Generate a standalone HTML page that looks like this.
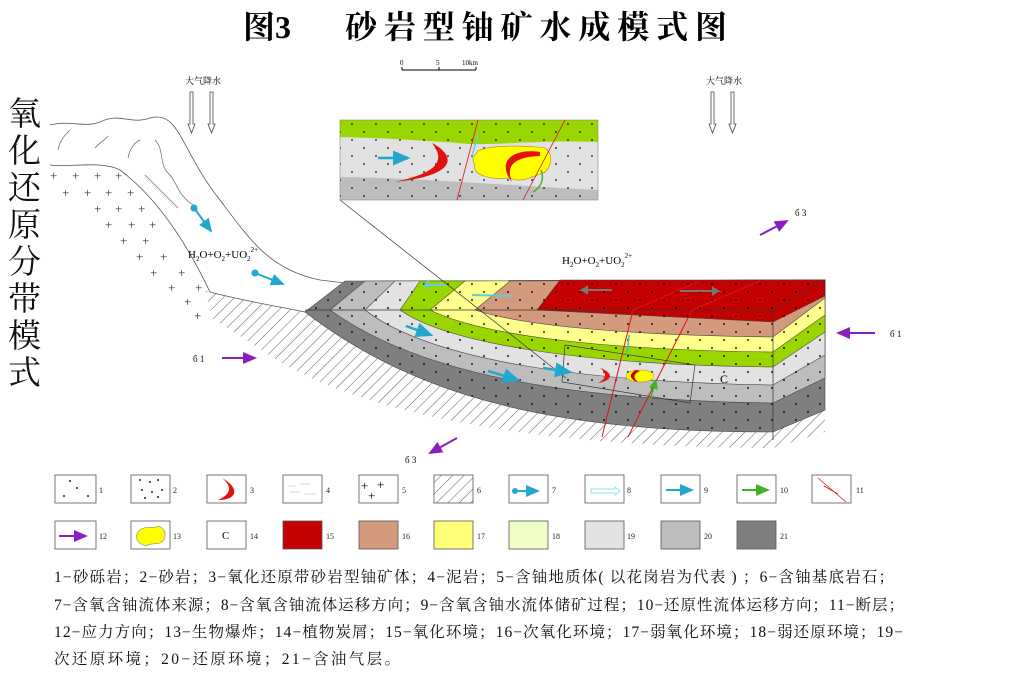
<!DOCTYPE html>
<html><head><meta charset="utf-8"><style>
html,body{margin:0;padding:0;background:#fff;}
svg{display:block;}
.t{font-family:"Liberation Serif","Noto Serif CJK SC",serif;}
</style></head><body>
<svg width="1024" height="680" viewBox="0 0 1024 680" xmlns="http://www.w3.org/2000/svg">
<defs>
<pattern id="dots" width="24" height="16" patternUnits="userSpaceOnUse">
<circle cx="4" cy="4" r="1.1" fill="#000"/><circle cx="16" cy="12" r="1.1" fill="#000"/>
</pattern>
<pattern id="hatch" width="8" height="8" patternUnits="userSpaceOnUse" patternTransform="rotate(45)">
<line x1="0" y1="0" x2="0" y2="8" stroke="#333" stroke-width="0.8"/>
</pattern>
<marker id="pa" markerWidth="8" markerHeight="8" refX="6" refY="4" orient="auto"><path d="M0,1 L7,4 L0,7 Z" fill="#8a1fc0"/></marker>
<marker id="ba" markerWidth="8" markerHeight="8" refX="6" refY="4" orient="auto"><path d="M0,1 L7,4 L0,7 Z" fill="#21a8cc"/></marker>
<marker id="ga" markerWidth="8" markerHeight="8" refX="6" refY="4" orient="auto"><path d="M0,1 L7,4 L0,7 Z" fill="#44b02a"/></marker>
</defs>

<text x="243" y="38" class="t" font-size="32" font-weight="bold">图3</text>
<text x="345" y="38" class="t" font-size="32" font-weight="bold" textLength="382" lengthAdjust="spacing">砂岩型铀矿水成模式图</text>

<g class="t" font-size="33" fill="#111">
<text x="8" y="125">氧</text><text x="8" y="162">化</text><text x="8" y="199">还</text><text x="8" y="236">原</text>
<text x="8" y="273">分</text><text x="8" y="310">带</text><text x="8" y="347">模</text><text x="8" y="384">式</text>
</g>

<!-- scale bar -->
<line x1="402" y1="70" x2="476" y2="70" stroke="#000" stroke-width="1"/>
<line x1="402" y1="67" x2="402" y2="70" stroke="#000"/><line x1="439" y1="67" x2="439" y2="70" stroke="#000"/><line x1="476" y1="67" x2="476" y2="70" stroke="#000"/>
<text x="400" y="65" class="t" font-size="7">0</text><text x="436" y="65" class="t" font-size="7">5</text><text x="462" y="65" class="t" font-size="7">10km</text>

<!-- rain -->
<g class="t" font-size="9"><text x="185" y="84">大气降水</text><text x="706" y="84">大气降水</text></g>
<g fill="#fff" stroke="#444" stroke-width="0.8">
<path d="M190,92 h3 v32 h2 l-3.5,9 l-3.5,-9 h2 z"/><path d="M210,92 h3 v32 h2 l-3.5,9 l-3.5,-9 h2 z"/>
<path d="M711,92 h3 v32 h2 l-3.5,9 l-3.5,-9 h2 z"/><path d="M731,92 h3 v32 h2 l-3.5,9 l-3.5,-9 h2 z"/>
</g>

<!-- basement hatch -->
<path d="M205,290 C240,300 270,305 305,312 C420,400 560,432 773,432 L825,410 L825,432 L773,448 C560,448 380,420 280,362 L212,318 Z" fill="url(#hatch)"/>
<line x1="773" y1="420" x2="773" y2="440" stroke="#333" stroke-width="0.8"/>

<!-- slope -->
<path d="M50,125 C70,120 85,128 100,122 C120,112 130,125 150,118 C180,110 180,150 220,200 C250,240 270,270 320,280 L345,283 L305,312 C270,305 240,300 210,292 C190,250 160,200 120,170 C100,160 70,168 50,165" fill="#fff" stroke="#555" stroke-width="0.8"/>
<g fill="none" stroke="#666" stroke-width="0.7">
<path d="M58,150 C60,140 65,135 70,130"/><path d="M95,148 C100,142 105,140 108,136"/><path d="M128,158 C130,148 135,142 140,140"/>
<path d="M155,140 C165,150 158,165 170,175 C178,185 178,195 193,205"/><path d="M145,175 C160,190 170,200 178,208"/>
</g>
<g class="t" font-size="13" fill="#333">
<text x="50" y="180">+</text><text x="72" y="180">+</text><text x="94" y="180">+</text><text x="115" y="180">+</text>
<text x="62" y="197">+</text><text x="84" y="197">+</text><text x="105" y="197">+</text><text x="127" y="197">+</text>
<text x="94" y="213">+</text><text x="115" y="213">+</text><text x="138" y="213">+</text>
<text x="105" y="229">+</text><text x="128" y="229">+</text><text x="149" y="229">+</text>
<text x="120" y="245">+</text><text x="142" y="245">+</text>
<text x="136" y="261">+</text><text x="160" y="261">+</text>
<text x="150" y="277">+</text><text x="178" y="277">+</text>
<text x="168" y="292">+</text><text x="195" y="292">+</text>
<text x="184" y="306">+</text><text x="194" y="320">+</text>
</g>
<circle cx="194" cy="208" r="3.5" fill="#21a8cc"/><line x1="194" y1="208" x2="211" y2="231" stroke="#21a8cc" stroke-width="2" marker-end="url(#ba)"/>
<circle cx="255" cy="273" r="3.5" fill="#21a8cc"/><line x1="255" y1="273" x2="283" y2="284" stroke="#21a8cc" stroke-width="2" marker-end="url(#ba)"/>
<text x="188" y="258" class="t" font-size="11">H<tspan font-size="7" dy="3">2</tspan><tspan dy="-3">O+O</tspan><tspan font-size="7" dy="3">2</tspan><tspan dy="-3">+UO</tspan><tspan font-size="7" dy="3">2</tspan><tspan font-size="7" dy="-9">2+</tspan></text>
<text x="562" y="264" class="t" font-size="11">H<tspan font-size="7" dy="3">2</tspan><tspan dy="-3">O+O</tspan><tspan font-size="7" dy="3">2</tspan><tspan dy="-3">+UO</tspan><tspan font-size="7" dy="3">2</tspan><tspan font-size="7" dy="-9">2+</tspan></text>

<!-- block layers -->
<g stroke="#444" stroke-width="0.6">
<path d="M305,312 L345,281 L825,280 L825,410 L773,432 C560,432 420,400 305,312 Z" fill="#7f7f7f"/>
<path d="M330,310 L365,281 L825,280 L825,378 L773,403 C570,400 420,375 330,310 Z" fill="#bdbdbd"/>
<path d="M365,310 L395,281 L825,280 L825,355 L773,385 C580,382 430,360 365,310 Z" fill="#e2e2e2"/>
<path d="M400,310 L420,281 L825,280 L825,332 L773,367 C590,365 450,345 400,310 Z" fill="#99d600"/>
<path d="M430,310 L465,281 L825,280 L825,315 L773,352 C600,350 480,335 430,310 Z" fill="#ffff8c"/>
<path d="M475,310 L510,281 L825,280 L825,298 L773,337 C620,335 520,325 475,310 Z" fill="#d49a7d"/>
<path d="M537,310 L560,280 L825,280 L825,296 L773,322 Z" fill="#c40000"/>
<path d="M305,312 L345,281 L825,280 L825,410 L773,432 C560,432 420,400 305,312 Z" fill="url(#dots)" stroke="none" opacity="0.7"/>
</g>
<g stroke="#333" stroke-width="0.7" fill="none">
<line x1="305" y1="310" x2="773" y2="310"/><line x1="773" y1="310" x2="773" y2="432"/><line x1="773" y1="310" x2="825" y2="280"/>
<path d="M565,345 L695,365 L690,403 L562,382 Z"/>
<line x1="340" y1="200" x2="566" y2="378"/>
</g>
<text x="720" y="383" class="t" font-size="12">C</text>
<!-- faults -->
<g stroke="#e0101a" stroke-width="1" fill="none">
<path d="M700,281 L633,310 L602,437"/><path d="M760,281 L692,310 L628,437"/>
</g>
<!-- ore body in block -->
<path d="M600,368 C612,372 615,380 598,383 C608,378 606,372 600,368 Z" fill="#e31010"/>
<ellipse cx="640" cy="376" rx="14" ry="6" fill="#ffff00" stroke="#aa8800" stroke-width="0.5"/>
<path d="M636,370 C628,374 630,380 638,382 C633,378 633,374 640,371 Z" fill="#c00"/>
<line x1="650" y1="400" x2="656" y2="380" stroke="#44b02a" stroke-width="1.5" marker-end="url(#ga)"/>
<line x1="627" y1="355" x2="629" y2="335" stroke="#40c0c0" stroke-width="1.5"/>
<!-- arrows in block -->
<line x1="406" y1="326" x2="431" y2="335" stroke="#21a8cc" stroke-width="2.5" marker-end="url(#ba)"/>
<line x1="488" y1="371" x2="518" y2="380" stroke="#21a8cc" stroke-width="2.5" marker-end="url(#ba)"/>
<line x1="543" y1="368" x2="570" y2="372" stroke="#21a8cc" stroke-width="2.5" marker-end="url(#ba)"/>
<path d="M445,285 h-20 l4,-4 m-4,4 l4,4" stroke="#60d0e0" stroke-width="2" fill="none"/>
<line x1="472" y1="295" x2="512" y2="296" stroke="#60d0d0" stroke-width="2"/>
<path d="M612,290 h-30 l5,-3 v6 l-5,-3" stroke="#777" stroke-width="2" fill="none"/>
<path d="M680,291 h38 l-5,-3 v6 l5,-3" stroke="#777" stroke-width="2" fill="none"/>

<!-- inset -->
<rect x="340" y="120" width="258" height="80" fill="#bdbdbd"/>
<path d="M340,120 L598,120 L598,190 C500,185 420,178 340,177 Z" fill="#e2e2e2"/>
<path d="M340,120 L598,120 L598,142 C540,140 500,145 470,144 C420,140 380,138 340,137 Z" fill="#99d600"/>
<rect x="340" y="120" width="258" height="80" fill="url(#dots)" opacity="0.6"/>
<rect x="340" y="120" width="258" height="80" fill="none" stroke="#888" stroke-width="0.6"/>
<path d="M432,143 C455,155 460,175 395,182 C440,172 445,160 432,143 Z" fill="#e31010"/>
<path d="M478,151 C490,144 530,146 545,148 C555,155 550,168 545,172 C530,178 520,183 510,178 C490,180 472,175 475,165 C470,158 476,154 478,151 Z" fill="#ffff00" stroke="#aa8800" stroke-width="0.6"/>
<path d="M540,152 C515,148 495,160 512,182 C505,165 515,157 540,156 Z" fill="#e31010"/>
<line x1="378" y1="158" x2="408" y2="158" stroke="#21a8cc" stroke-width="2.5" marker-end="url(#ba)"/>
<g stroke="#e0101a" stroke-width="0.8"><line x1="478" y1="120" x2="457" y2="200"/><line x1="565" y1="120" x2="523" y2="200"/></g>
<line x1="472" y1="156" x2="478" y2="135" stroke="#60d0e0" stroke-width="1.5"/>
<path d="M541,170 C545,180 540,188 533,192" stroke="#44b02a" stroke-width="1.5" fill="none"/>

<!-- stress arrows -->
<g stroke="#8a1fc0" stroke-width="2" marker-end="url(#pa)">
<line x1="222" y1="358" x2="255" y2="358"/><line x1="875" y1="333" x2="838" y2="333"/>
<line x1="760" y1="235" x2="787" y2="221"/><line x1="457" y1="438" x2="430" y2="453"/>
</g>
<g class="t" font-size="9"><text x="193" y="362">б 1</text><text x="890" y="337">б 1</text><text x="795" y="216">б 3</text><text x="405" y="463">б 3</text></g>

<!-- legend -->
<g fill="#fff" stroke="#555" stroke-width="0.8">
<rect x="55" y="475" width="41" height="28"/><rect x="131" y="475" width="39" height="28"/><rect x="207" y="475" width="39" height="28"/>
<rect x="283" y="475" width="39" height="28"/><rect x="359" y="475" width="39" height="28"/><rect x="434" y="475" width="39" height="28" fill="url(#hatch)"/>
<rect x="509" y="475" width="39" height="28"/><rect x="585" y="475" width="39" height="28"/><rect x="661" y="475" width="39" height="28"/>
<rect x="737" y="475" width="39" height="28"/><rect x="812" y="475" width="39" height="28"/>
<rect x="55" y="521" width="41" height="28"/><rect x="131" y="521" width="39" height="28"/><rect x="207" y="521" width="39" height="28"/>
<rect x="283" y="521" width="39" height="28" fill="#c40000"/><rect x="359" y="521" width="39" height="28" fill="#d49a7d"/>
<rect x="434" y="521" width="39" height="28" fill="#ffff7a"/><rect x="509" y="521" width="39" height="28" fill="#f0ffc8"/>
<rect x="585" y="521" width="39" height="28" fill="#e2e2e2"/><rect x="661" y="521" width="39" height="28" fill="#bdbdbd"/>
<rect x="737" y="521" width="39" height="28" fill="#7f7f7f"/>
</g>
<g fill="#222"><circle cx="64" cy="496" r="1"/><circle cx="77" cy="488" r="1"/><circle cx="88" cy="496" r="1"/><circle cx="70" cy="481" r="1"/>
<circle cx="140" cy="480" r="1"/><circle cx="150" cy="482" r="1"/><circle cx="158" cy="480" r="1"/><circle cx="142" cy="490" r="1"/><circle cx="152" cy="492" r="1"/><circle cx="162" cy="490" r="1"/><circle cx="145" cy="498" r="1"/><circle cx="158" cy="497" r="1"/></g>
<path d="M222,478 C240,488 238,500 218,500 C232,494 232,486 222,478 Z" fill="#e31010"/>
<g stroke="#ccc" stroke-width="0.8"><line x1="288" y1="486" x2="296" y2="486"/><line x1="300" y1="484" x2="310" y2="484"/><line x1="290" y1="492" x2="300" y2="492"/><line x1="304" y1="494" x2="316" y2="494"/></g>
<g class="t" font-size="13"><text x="361" y="490">+</text><text x="377" y="489">+</text><text x="368" y="500">+</text></g>
<circle cx="515" cy="491" r="3" fill="#21a8cc"/><line x1="515" y1="491" x2="538" y2="491" stroke="#21a8cc" stroke-width="2" marker-end="url(#ba)"/>
<path d="M591,489 h24 v-2 l5,4 l-5,4 v-2 h-24 z" fill="#fff" stroke="#8fe0e8" stroke-width="1"/>
<line x1="666" y1="490" x2="692" y2="490" stroke="#21a8cc" stroke-width="2" marker-end="url(#ba)"/>
<line x1="742" y1="490" x2="768" y2="490" stroke="#44b02a" stroke-width="2" marker-end="url(#ga)"/>
<g stroke="#e0101a" stroke-width="0.8"><line x1="818" y1="478" x2="846" y2="502"/><line x1="824" y1="486" x2="838" y2="494"/></g>
<line x1="59" y1="536" x2="86" y2="536" stroke="#8a1fc0" stroke-width="2" marker-end="url(#pa)"/>
<path d="M138,532 C145,524 152,530 158,526 C166,528 166,536 164,540 C160,546 150,542 146,546 C138,544 134,538 138,532 Z" fill="#ffff00" stroke="#888" stroke-width="0.6"/>
<g class="t" font-size="8" fill="#222">
<text x="99" y="493">1</text><text x="173" y="493">2</text><text x="250" y="493">3</text><text x="326" y="493">4</text><text x="402" y="493">5</text><text x="477" y="493">6</text>
<text x="552" y="493">7</text><text x="627" y="493">8</text><text x="704" y="493">9</text><text x="780" y="493">10</text><text x="856" y="493">11</text>
<text x="99" y="539">12</text><text x="173" y="539">13</text><text x="250" y="539">14</text><text x="326" y="539">15</text><text x="402" y="539">16</text><text x="477" y="539">17</text>
<text x="552" y="539">18</text><text x="627" y="539">19</text><text x="704" y="539">20</text><text x="780" y="539">21</text>
</g>
<text x="222" y="539" class="t" font-size="11">C</text>

<g class="t" font-size="15.5" fill="#111">
<text x="54" y="582" textLength="840" lengthAdjust="spacing">1−砂砾岩；2−砂岩；3−氧化还原带砂岩型铀矿体；4−泥岩；5−含铀地质体( 以花岗岩为代表 ) ；6−含铀基底岩石；</text>
<text x="54" y="610" textLength="850" lengthAdjust="spacing">7−含氧含铀流体来源；8−含氧含铀流体运移方向；9−含氧含铀水流体储矿过程；10−还原性流体运移方向；11−断层；</text>
<text x="54" y="637" textLength="849" lengthAdjust="spacing">12−应力方向；13−生物爆炸；14−植物炭屑；15−氧化环境；16−次氧化环境；17−弱氧化环境；18−弱还原环境；19−</text>
<text x="54" y="664" textLength="346" lengthAdjust="spacing">次还原环境；20−还原环境；21−含油气层。</text>
</g>
</svg>
</body></html>
